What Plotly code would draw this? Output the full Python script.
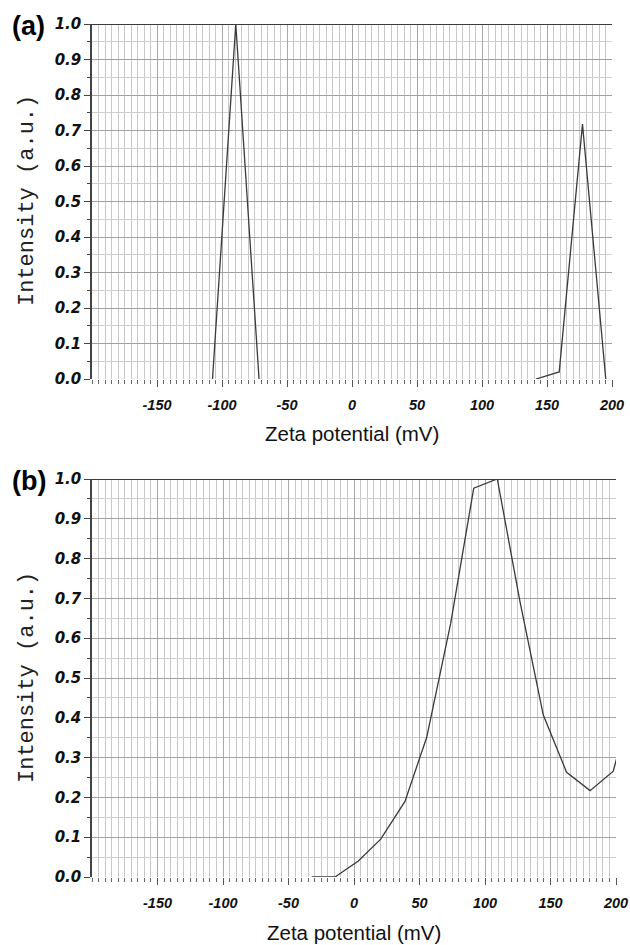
import plotly.graph_objects as go

# ---- data ----
zeta_a = [-107.3, -89.4, -71.5, None, 141.5, 159.4, 177.3, 195.2]
intensity_a = [0.0, 1.0, 0.0, None, 0.0, 0.02, 0.718, 0.0]

zeta_b = [-32.3, -14.5, 3.3, 20.4, 38.9, 55.5, 73.8, 91.4, 109.4, 126.7,
          144.5, 162.3, 180.2, 197.9, 200.5]
intensity_b = [0.0, 0.0, 0.04, 0.095, 0.19, 0.351, 0.637, 0.977, 1.0, 0.692,
               0.407, 0.263, 0.217, 0.266, 0.298]

x_tickvals = [-150, -100, -50, 0, 50, 100, 150, 200]
x_ticktext = ["-150", "-100", "-50", "0", "50", "100", "150", "200"]
y_tickvals = [0.0, 0.1, 0.2, 0.3, 0.4, 0.5, 0.6, 0.7, 0.8, 0.9, 1.0]
y_ticktext = ["0.0", "0.1", "0.2", "0.3", "0.4", "0.5", "0.6", "0.7", "0.8", "0.9", "1.0"]

W, H = 630, 945


def px(x):
    return x / W


def py(y):
    return 1 - y / H


LINE = "#3a3a3a"

fig = go.Figure()
fig.add_trace(go.Scatter(x=zeta_a, y=intensity_a, mode="lines",
                         line=dict(color=LINE, width=1.3), xaxis="x", yaxis="y",
                         connectgaps=False, showlegend=False, hoverinfo="skip"))
fig.add_trace(go.Scatter(x=zeta_b, y=intensity_b, mode="lines",
                         line=dict(color=LINE, width=1.3), xaxis="x2", yaxis="y2",
                         showlegend=False, hoverinfo="skip"))


def xax(domain, anchor):
    return dict(
        domain=domain, anchor=anchor, range=[-200, 200], automargin=False,
        tickmode="array", tickvals=x_tickvals, ticktext=x_ticktext,
        ticks="outside", ticklen=7, tickwidth=1, tickcolor="#555555",
        showgrid=True, gridcolor="#a8a8a8", gridwidth=1,
        zeroline=False, showline=False,
        tickfont=dict(family="Liberation Sans", size=14.5, color="#111111",
                      weight="bold", style="italic"),
        ticklabelstandoff=6,
        minor=dict(tickmode="linear", tick0=0, dtick=5, ticks="outside",
                   ticklen=4, tickwidth=1, tickcolor="#666666",
                   showgrid=True, gridcolor="#c8c8c8", gridwidth=1),
        fixedrange=True,
    )


def yax(domain, anchor):
    return dict(
        domain=domain, anchor=anchor, range=[0, 1.0], automargin=False,
        tickmode="array", tickvals=y_tickvals, ticktext=y_ticktext,
        ticks="outside", ticklen=6, tickwidth=1, tickcolor="#444444",
        showgrid=True, gridcolor="#a0a0a0", gridwidth=1,
        zeroline=False, showline=True, linecolor="#444444", linewidth=1.5,
        tickfont=dict(family="DejaVu Sans", size=15, color="#111111",
                      weight="bold", style="italic"),
        minor=dict(tickmode="linear", tick0=0, dtick=0.05, ticks="outside",
                   ticklen=3, tickwidth=1, tickcolor="#444444",
                   showgrid=True, gridcolor="#cfcfcf", gridwidth=1),
        fixedrange=True,
    )


xa_dom = [px(92), px(612)]
ya_dom = [py(379), py(24)]
xb_dom = [px(92), px(616)]
yb_dom = [py(877), py(479)]

shapes = [
    dict(type="line", xref="x domain", yref="y", x0=0, x1=1, y0=1.0, y1=1.0,
         line=dict(color="#3c3c3c", width=2)),
    dict(type="line", xref="x2 domain", yref="y2", x0=0, x1=1, y0=1.0, y1=1.0,
         line=dict(color="#3c3c3c", width=2)),
]

ytitle_font = dict(family="Liberation Mono", size=22, color="#222222")
xtitle_font = dict(family="Liberation Sans", size=20.5, color="#111111")
panel_font = dict(family="Liberation Sans", size=27, color="#000000", weight="bold")

annotations = [
    dict(text="(a)", x=px(28), y=py(26), xref="paper", yref="paper",
         xanchor="center", yanchor="middle", showarrow=False, font=panel_font),
    dict(text="(b)", x=px(29), y=py(481), xref="paper", yref="paper",
         xanchor="center", yanchor="middle", showarrow=False, font=panel_font),
    dict(text="Zeta potential (mV)", x=px(352), y=py(433), xref="paper", yref="paper",
         xanchor="center", yanchor="middle", showarrow=False, font=xtitle_font),
    dict(text="Zeta potential (mV)", x=px(354), y=py(932), xref="paper", yref="paper",
         xanchor="center", yanchor="middle", showarrow=False, font=xtitle_font),
    dict(text="Intensity (a.u.)", x=px(27), y=py(201), xref="paper", yref="paper",
         xanchor="center", yanchor="middle", showarrow=False, textangle=-90,
         font=ytitle_font),
    dict(text="Intensity (a.u.)", x=px(27), y=py(678), xref="paper", yref="paper",
         xanchor="center", yanchor="middle", showarrow=False, textangle=-90,
         font=ytitle_font),
]

fig.update_layout(
    width=W, height=H,
    margin=dict(l=0, r=0, t=0, b=0, autoexpand=False),
    paper_bgcolor="white", plot_bgcolor="white",
    xaxis=xax(xa_dom, "y"), yaxis=yax(ya_dom, "x"),
    xaxis2=xax(xb_dom, "y2"), yaxis2=yax(yb_dom, "x2"),
    shapes=shapes, annotations=annotations,
    showlegend=False, hovermode=False,
)

# remove the default 8px page margin so the figure fills the 630x945 window
fig.write_html(
    "out.html",
    config={"displayModeBar": False},
    post_script="document.body.style.margin='0px';document.body.style.overflow='hidden';",
)
